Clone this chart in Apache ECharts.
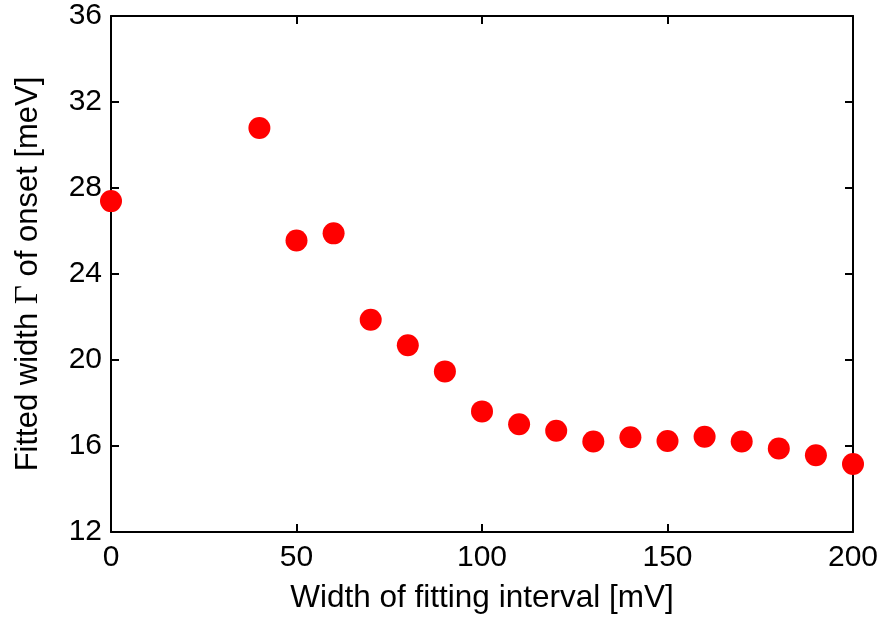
<!DOCTYPE html>
<html><head><meta charset="utf-8">
<script src="https://cdn.jsdelivr.net/npm/echarts@6/dist/echarts.min.js"></script>
<style>html,body{margin:0;padding:0;background:#fff}#c{width:883px;height:619px}</style>
</head><body><div id="c"></div>
<script>
const intervalWidth = [0, 40, 50, 60, 70, 80, 90, 100, 110, 120, 130, 140, 150, 160, 170, 180, 190, 200];
const fittedGamma = [27.39, 30.79, 25.56, 25.89, 21.87, 20.69, 19.47, 17.61, 17.01, 16.71, 16.21, 16.41, 16.23, 16.43, 16.21, 15.88, 15.57, 15.16];
const xTitle = 'Width of fitting interval [mV]';
const yTitleParts = ['Fitted width ', '\u0393', ' of onset [meV]'];

const chart = echarts.init(document.getElementById('c'), null, {renderer: 'canvas'});
const font = 'Liberation Sans, Arial, Helvetica, sans-serif';
const axisCommon = {
  axisLine: {show: true, onZero: false, lineStyle: {color: '#000', width: 2}},
  axisTick: {show: true, inside: true, length: 8, lineStyle: {color: '#000', width: 2}},
  splitLine: {show: false}
};
chart.setOption({
  animation: false,
  grid: {left: 111, top: 16, right: 30, bottom: 87, containLabel: false},
  xAxis: [
    Object.assign({type: 'value', min: 0, max: 200, interval: 50, position: 'bottom',
      name: xTitle, nameLocation: 'middle', nameGap: 50,
      nameTextStyle: {fontFamily: font, fontSize: 31.5, color: '#000'},
      axisLabel: {fontFamily: font, fontSize: 30, color: '#000', margin: 11}}, axisCommon),
    Object.assign({type: 'value', min: 0, max: 200, interval: 50, position: 'top',
      axisLabel: {show: false}}, axisCommon)
  ],
  yAxis: [
    Object.assign({type: 'value', min: 12, max: 36, interval: 4, position: 'left',
      name: '{a|' + yTitleParts[0] + '}{g|' + yTitleParts[1] + '}{a|' + yTitleParts[2] + '}',
      nameLocation: 'middle', nameGap: 66,
      nameTextStyle: {fontFamily: font, fontSize: 31, color: '#000',
        rich: {a: {fontFamily: font, fontSize: 31, color: '#000'},
               g: {fontFamily: 'Liberation Serif, DejaVu Serif, serif', fontSize: 33, color: '#000'}}},
      axisLabel: {fontFamily: font, fontSize: 30, color: '#000', margin: 9}}, axisCommon),
    Object.assign({type: 'value', min: 12, max: 36, interval: 4, position: 'right',
      axisLabel: {show: false}}, axisCommon)
  ],
  series: [{
    type: 'scatter',
    clip: false,
    symbol: 'circle',
    symbolSize: 22,
    itemStyle: {color: '#ff0000', opacity: 1},
    data: intervalWidth.map((x, i) => [x, fittedGamma[i]])
  }]
});
</script>
</body></html>
